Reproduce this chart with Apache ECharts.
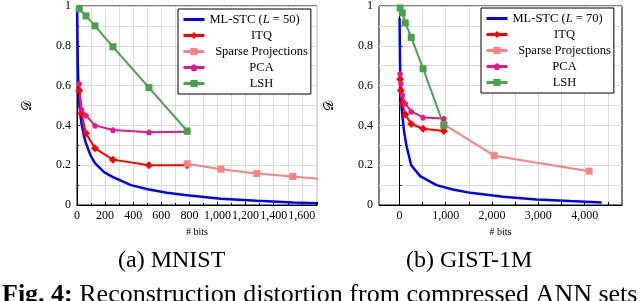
<!DOCTYPE html>
<html>
<head>
<meta charset="utf-8">
<script src="https://cdn.jsdelivr.net/npm/echarts@6/dist/echarts.min.js"></script>
<style>html,body{margin:0;padding:0;background:#fff;}#c{width:640px;height:301px;}</style>
</head>
<body>
<div id="c"></div>
<script>
// ---- MNIST (left) ----
const mnistStcBits = [1,3,6,10,16,24,32,48,64,96,128,192,256,384,512,640,768,1024,1280,1536,1708];
const mnistStc     = [0.99,0.85,0.7,0.6,0.52,0.45,0.41,0.35,0.31,0.25,0.21,0.165,0.14,0.1,0.078,0.062,0.05,0.032,0.021,0.013,0.009];
const mnistItqBits = [16,32,64,128,256,512,784];
const mnistItq     = [0.575,0.46,0.36,0.285,0.228,0.2,0.2];
const mnistSpBits  = [784,1024,1280,1536,1792];
const mnistSp      = [0.207,0.18,0.158,0.143,0.128];
const mnistPcaBits = [16,32,64,128,256,512,784];
const mnistPca     = [0.61,0.48,0.45,0.4,0.377,0.366,0.368];
const mnistLshBits = [16,64,128,256,512,784];
const mnistLsh     = [0.985,0.95,0.9,0.795,0.59,0.372];
// ---- GIST-1M (right) ----
const gistStcBits = [4,8,16,24,32,48,64,96,128,160,256,448,800,1152,1536,2240,2960,3680,4368];
const gistStc     = [0.94,0.85,0.7,0.6,0.55,0.49,0.45,0.38,0.33,0.29,0.2,0.145,0.1,0.078,0.061,0.041,0.028,0.02,0.013];
const gistItqBits = [16,32,64,128,256,512,960];
const gistItq     = [0.632,0.575,0.51,0.455,0.407,0.383,0.372];
const gistSpBits  = [960,2048,4096];
const gistSp      = [0.405,0.248,0.17];
const gistPcaBits = [16,32,64,128,256,512,960];
const gistPca     = [0.66,0.61,0.553,0.51,0.47,0.44,0.435];
const gistLshBits = [16,64,128,256,512,960];
const gistLsh     = [0.99,0.965,0.915,0.842,0.685,0.40];
// ---- ticks ----
const mnistXTicks = [0,200,400,600,800,1000,1200,1400,1600];
const gistXTicks  = [0,1000,2000,3000,4000];
const gistXGrid   = [0,500,1000,1500,2000,2500,3000,3500,4000,4500];
const legendNames = ['ITQ','Sparse Projections','PCA','LSH'];

const zip = (a,b) => a.map((v,i)=>[v,b[i]]);
const SERIF = 'Liberation Serif';
const C = {stc:'#0000ff', itq:'#ff0000', sp:'#ff8080', pca:'#e8158c', lsh:'#49a349'};
const pent = 'path://M0,-10 L9.5,-3.1 L5.9,8.1 L-5.9,8.1 L-9.5,-3.1 Z';
const fmt = v => { const s = Math.round(v).toString(); return s.replace(/\B(?=(\d{3})+(?!\d))/g, ','); };
const gridLine = {show:true, lineStyle:{color:'#dcdcdc', width:1}};

function xAxis(gi, min, max, extra){
  return Object.assign({
    type:'value', gridIndex:gi, min:min, max:max,
    name:'# bits', nameLocation:'middle', nameGap:22,
    nameTextStyle:{fontFamily:SERIF, fontSize:10, color:'#000'},
    axisLine:{show:true, onZero:false, lineStyle:{color:'#000', width:1}},
    axisTick:{show:true, inside:true, length:3, lineStyle:{color:'#000'}},
    axisLabel:{fontFamily:SERIF, fontSize:12, color:'#000', margin:5, formatter:fmt, hideOverlap:false},
    splitLine:gridLine
  }, extra);
}
function yAxis(gi){
  return {
    type:'value', gridIndex:gi, min:0, max:1, interval:0.2,
    name:'\u{1D49F}', nameLocation:'middle', nameGap:43, nameRotate:90,
    nameTextStyle:{fontFamily:'DejaVu Serif', fontSize:13, color:'#000'},
    axisLine:{show:true, lineStyle:{color:'#000', width:1}},
    axisTick:{show:true, inside:true, length:3, lineStyle:{color:'#000'}},
    minorTick:{show:true, splitNumber:2, length:2, lineStyle:{color:'#000'}},
    axisLabel:{fontFamily:SERIF, fontSize:12, color:'#000', margin:6,
      formatter:v=>String(Math.round(v*10)/10)},
    splitLine:gridLine,
    minorSplitLine:gridLine
  };
}
function lineS(name, gi, data, color, symbol, size, width){
  return {
    type:'line', name:name, xAxisIndex:gi, yAxisIndex:gi, data:data,
    symbol:symbol, symbolSize:size, showSymbol: symbol!=='none',
    color:color, itemStyle:{color:color},
    lineStyle:{color:color, width:width}, animation:false, clip:true, z:3
  };
}
function legend(gi, left, top, stcLabel){
  return {
    orient:'vertical', left:left, top:top,
    data:[{name:'ML-STC (L = '+stcLabel+')', itemStyle:{opacity:0}}].concat(legendNames),
    backgroundColor:'#fff', borderColor:'#000', borderWidth:1,
    padding:[4,3,4,4], itemGap:3, itemWidth:21, itemHeight:9, itemTextGap:5,
    selectedMode:false,
    lineStyle:{width:3},
    textStyle:{fontFamily:SERIF, fontSize:12.5, color:'#000',
      rich:{
        n:{fontFamily:SERIF, fontSize:12.5, color:'#000'},
        i:{fontFamily:SERIF, fontSize:12.5, color:'#000', fontStyle:'italic'},
        c:{fontFamily:SERIF, fontSize:12.5, color:'#000', width:104, align:'center'}
      }},
    formatter: function(name){
      if (name.indexOf('ML-STC')===0) {
        const num = name.replace(/\D/g,'');
        return '{n|ML-STC (}{i|L}{n| = '+num+')}';
      }
      return '{c|'+name+'}';
    }
  };
}

const chart = echarts.init(document.getElementById('c'), null, {renderer:'canvas'});
chart.setOption({
  animation:false,
  backgroundColor:'#fff',
  grid:[
    {left:77, top:5, width:240, height:200, show:true, borderColor:'#000', borderWidth:1, backgroundColor:'#fff'},
    {left:379, top:3, width:243, height:202, show:true, borderColor:'#000', borderWidth:1, backgroundColor:'#fff'}
  ],
  xAxis:[
    xAxis(0, 0, 1708, {interval:200, minorTick:{show:true, splitNumber:2, length:2, lineStyle:{color:'#000'}}, minorSplitLine:gridLine}),
    xAxis(1, -440, 4806, {
      axisTick:{show:true, inside:true, length:3, lineStyle:{color:'#000'}, customValues:gistXGrid},
      axisLabel:{fontFamily:SERIF, fontSize:12, color:'#000', margin:5, formatter:fmt, customValues:gistXTicks}
    })
  ],
  yAxis:[yAxis(0), yAxis(1)],
  legend:[legend(0,178,9,'50'), legend(1,481,8,'70')],
  series:[
    lineS('ML-STC (L = 50)',0,zip(mnistStcBits,mnistStc),C.stc,'none',0,2.5),
    lineS('ITQ',0,zip(mnistItqBits,mnistItq),C.itq,'diamond',8,2),
    lineS('Sparse Projections',0,zip(mnistSpBits,mnistSp),C.sp,'rect',7,2),
    lineS('PCA',0,zip(mnistPcaBits,mnistPca),C.pca,pent,6,2),
    lineS('LSH',0,zip(mnistLshBits,mnistLsh),C.lsh,'rect',7,2),
    lineS('ML-STC (L = 70)',1,zip(gistStcBits,gistStc),C.stc,'none',0,2.5),
    lineS('ITQ',1,zip(gistItqBits,gistItq),C.itq,'diamond',8,2),
    lineS('Sparse Projections',1,zip(gistSpBits,gistSp),C.sp,'rect',7,2),
    lineS('PCA',1,zip(gistPcaBits,gistPca),C.pca,pent,6,2),
    lineS('LSH',1,zip(gistLshBits,gistLsh),C.lsh,'rect',7,2)
  ],
  graphic:[
    {type:'text', left:118, top:249, style:{text:'(a) MNIST', fontFamily:SERIF, fontSize:24, fill:'#000'}},
    {type:'text', left:406, top:249, style:{text:'(b) GIST-1M', fontFamily:SERIF, fontSize:24, fill:'#000'}},
    {type:'text', left:2, top:282, style:{
      text:'{b|Fig. 4:}{r| Reconstruction distortion from compressed ANN sets}',
      rich:{b:{fontFamily:SERIF, fontSize:26, fontWeight:'bold', fill:'#000'},
            r:{fontFamily:SERIF, fontSize:26, fill:'#000'}}}}
  ]
});
</script>
</body>
</html>
